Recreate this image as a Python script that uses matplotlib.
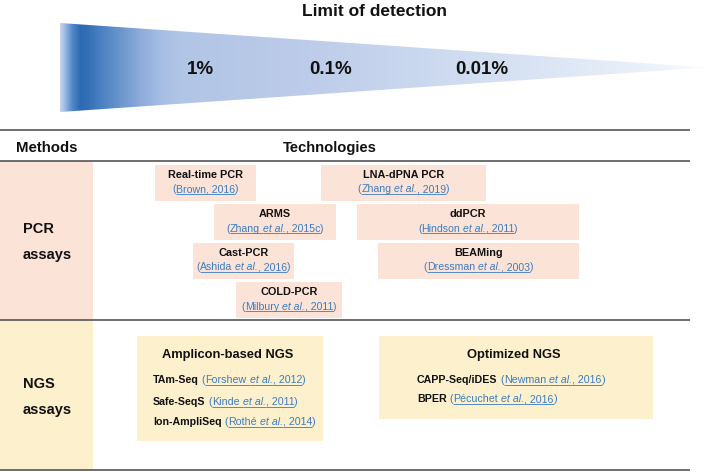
import matplotlib
matplotlib.use("Agg")
import matplotlib.pyplot as plt
import numpy as np
from matplotlib.patches import Polygon, Rectangle
from matplotlib.colors import to_rgb

# ---------------- data ----------------
title_text = "Limit of detection"
lod_labels = ["1%", "0.1%", "0.01%"]
header_methods = "Methods"
header_tech = "Technologies"
method_labels = [["PCR", "assays"], ["NGS", "assays"]]

pcr_names = ["Real-time PCR", "LNA-dPNA PCR", "ARMS", "ddPCR", "Cast-PCR", "BEAMing", "COLD-PCR"]
pcr_authors = ["Brown", "Zhang", "Zhang", "Hindson", "Ashida", "Dressman", "Milbury"]
pcr_etal = [False, True, True, True, True, True, True]
pcr_years = ["2016", "2019", "2015c", "2011", "2016", "2003", "2011"]

ngs_groups = ["Amplicon-based NGS", "Optimized NGS"]
amp_names = ["TAm-Seq", "Safe-SeqS", "Ion-AmpliSeq"]
amp_authors = ["Forshew", "Kinde", "Rothé"]
amp_years = ["2012", "2011", "2014"]
opt_names = ["CAPP-Seq/iDES", "BPER"]
opt_authors = ["Newman", "Pécuchet"]
opt_years = ["2016", "2016"]

# ---------------- layout / style ----------------
W, H = 709, 472
FONT = ["Liberation Sans", "Arial", "DejaVu Sans"]
PINK = "#fbe4d7"
YELLOW = "#fdf0cd"
LINK = "#3b7cc2"
LINE = "#555555"
TXT = "#111111"

lod_x = [200, 331, 482]
pcr_boxes = [(155, 165, 256, 201), (321, 165, 486, 201), (214, 204, 336, 240),
             (357, 204, 579, 240), (193, 243, 294, 279), (378, 243, 579, 279),
             (236, 282, 342, 318)]
ngs_boxes = [(137, 336, 323, 441), (379, 336, 653, 419)]

fig = plt.figure(figsize=(W / 100, H / 100), dpi=100)
ax = fig.add_axes([0, 0, 1, 1])
ax.set_xlim(0, W)
ax.set_ylim(H, 0)
ax.axis("off")
renderer = fig.canvas.get_renderer()

_cache = {}


def raw_w(s, size, weight, style):
    key = (s, size, weight, style)
    if key not in _cache:
        t = ax.text(0, 0, s, fontsize=size, fontweight=weight, fontstyle=style, family=FONT)
        _cache[key] = t.get_window_extent(renderer).width
        t.remove()
    return _cache[key]


def space_w(size, weight, style):
    return raw_w("a a", size, weight, style) - raw_w("aa", size, weight, style)


def draw_frags(frags, x, y, size, ha="left"):
    # frags: list of (text, weight, style, color, underline)
    info = []
    total = 0
    for s, wt, st, col, ul in frags:
        core = s.strip()
        lead = len(s) - len(s.lstrip())
        trail = len(s) - len(s.rstrip())
        sp = space_w(size, wt, st)
        cw = raw_w(core, size, wt, st) if core else 0
        w = lead * sp + cw + trail * sp
        info.append((core, lead * sp, cw, w, wt, st, col, ul))
        total += w
    cx = x - total / 2 if ha == "center" else x
    for core, lw, cw, w, wt, st, col, ul in info:
        if core:
            ax.text(cx + lw, y, core, fontsize=size, fontweight=wt, fontstyle=st,
                    color=col, family=FONT, ha="left", va="baseline")
        if ul:
            ax.plot([cx, cx + w], [y + 1.7, y + 1.7], color=col, lw=0.6,
                    solid_capstyle="butt")
        cx += w


def cite(author, etal, year):
    fr = [("(", "normal", "normal", LINK, False)]
    if etal:
        fr += [(author + " ", "normal", "normal", LINK, True),
               ("et al.", "normal", "italic", LINK, True),
               (", " + year, "normal", "normal", LINK, True)]
    else:
        fr += [(author + ", " + year, "normal", "normal", LINK, True)]
    fr += [(")", "normal", "normal", LINK, False)]
    return fr


# ---------------- gradient triangle ----------------
stops_x = [60, 64, 72, 80, 88, 100, 120, 140, 160, 180, 300, 420, 540, 640, 707]
stops_c = ["#c5d4ec", "#a3bde3", "#5288c8", "#2c6ab3", "#3370b6", "#4a80c1", "#6a96cd",
           "#8cacda", "#a5bde3", "#b1c5e6", "#bccbe9", "#cad8ef", "#dae4f4", "#eaf0f9",
           "#fafcff"]
xs = np.linspace(60, 707, 800)
rgb = np.array([to_rgb(c) for c in stops_c])
img = np.stack([np.interp(xs, stops_x, rgb[:, k]) for k in range(3)], axis=-1)[None, :, :]
tri = Polygon([(60, 23), (707, 67.5), (60, 112)], closed=True, facecolor="none",
              edgecolor="none")
ax.add_patch(tri)
im = ax.imshow(img, extent=(60, 707, 112, 23), aspect="auto", interpolation="bilinear",
               zorder=1)
im.set_clip_path(tri)
ax.set_xlim(0, W)
ax.set_ylim(H, 0)

ax.text(375, 16, title_text, fontsize=12.5, fontweight="bold", family=FONT,
        ha="center", va="baseline", color=TXT)
for lx, lab in zip(lod_x, lod_labels):
    ax.text(lx, 74, lab, fontsize=13.5, fontweight="bold", family=FONT,
            ha="center", va="baseline", color=TXT, zorder=3)

# ---------------- table ----------------
ax.add_patch(Rectangle((0, 161), 93, 159, facecolor=PINK, edgecolor="none", zorder=0))
ax.add_patch(Rectangle((0, 320), 93, 150, facecolor=YELLOW, edgecolor="none", zorder=0))
for yy in [130, 161, 320, 470]:
    ax.plot([0, 690], [yy, yy], color=LINE, lw=1.2, zorder=4, solid_capstyle="butt")

ax.text(16, 152, header_methods, fontsize=10.8, fontweight="bold", family=FONT,
        ha="left", va="baseline", color=TXT)
ax.text(330, 152, header_tech, fontsize=10.6, fontweight="bold", family=FONT,
        ha="center", va="baseline", color=TXT)
for (l1, l2), yb in zip(method_labels, [233, 388]):
    ax.text(23, yb, l1, fontsize=10.5, fontweight="bold", family=FONT,
            ha="left", va="baseline", color=TXT)
    ax.text(23, yb + 26, l2, fontsize=10.5, fontweight="bold", family=FONT,
            ha="left", va="baseline", color=TXT)

# PCR boxes
for (x0, y0, x1, y1), nm, au, ea, yr in zip(pcr_boxes, pcr_names, pcr_authors,
                                            pcr_etal, pcr_years):
    ax.add_patch(Rectangle((x0, y0), x1 - x0, y1 - y0, facecolor=PINK,
                           edgecolor="none", zorder=1))
    xc = (x0 + x1) / 2
    ax.text(xc, y0 + 13, nm, fontsize=7.8, fontweight="bold", family=FONT,
            ha="center", va="baseline", color=TXT)
    draw_frags(cite(au, ea, yr), xc, y0 + 27.5, 7.6, ha="center")

# NGS boxes
groups = [(amp_names, amp_authors, amp_years, 153, [383, 405, 425]),
          (opt_names, opt_authors, opt_years, 417, [383, 402])]
for (x0, y0, x1, y1), gname, (names, auths, yrs, lx, ybs) in zip(ngs_boxes, ngs_groups, groups):
    ax.add_patch(Rectangle((x0, y0), x1 - x0, y1 - y0, facecolor=YELLOW,
                           edgecolor="none", zorder=1))
    ax.text((x0 + x1) / 2 - 2, 358, gname, fontsize=9.3, fontweight="bold", family=FONT,
            ha="center", va="baseline", color=TXT)
    for nm, au, yr, yb in zip(names, auths, yrs, ybs):
        fr = [(nm + " ", "bold", "normal", TXT, False)] + cite(au, True, yr)
        draw_frags(fr, lx, yb, 7.7)

fig.savefig("out.png", dpi=100)
